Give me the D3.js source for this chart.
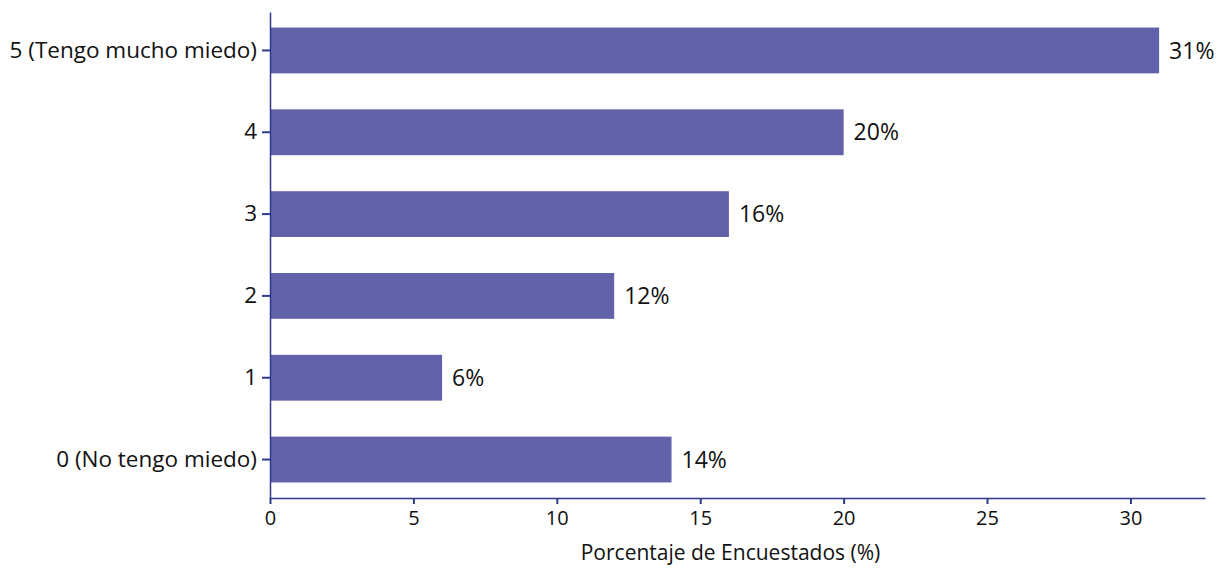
<!DOCTYPE html>
<html>
<head>
<meta charset="utf-8">
<script src="https://cdn.jsdelivr.net/npm/d3@7"></script>
<style>
  body { margin: 0; background: #fff; }
  text { font-family: "Open Sans", "Noto Sans", sans-serif; fill: #111; }
</style>
</head>
<body>
<script>
// data, top bar first
var categories = ["5 (Tengo mucho miedo)", "4", "3", "2", "1", "0 (No tengo miedo)"],
    values = [31, 20, 16, 12, 6, 14],
    xTicks = [0, 5, 10, 15, 20, 25, 30];

var w = 1224,
    h = 569,
    margin = {top: 12, right: 19, bottom: 71, left: 270},
    axisColor = "#2e3a8c",
    barColor = "#6262ab";

var svg = d3.select("body").append("svg").attr("width", w).attr("height", h);

var x = d3.scaleLinear()
  .domain([0, 32.6])
  .range([margin.left, w - margin.right]);

var y = d3.scaleBand()
  .domain(categories)
  .range([margin.top, h - margin.bottom])
  .paddingInner(0.44)
  .paddingOuter(0.19);

// bars
svg.append("g").selectAll("rect")
  .data(values)
  .enter().append("rect")
  .attr("x", x(0))
  .attr("y", function (d, i) { return y(categories[i]); })
  .attr("width", function (d) { return x(d) - x(0); })
  .attr("height", y.bandwidth())
  .attr("fill", barColor);

// value labels
svg.append("g").selectAll("text")
  .data(values)
  .enter().append("text")
  .attr("x", function (d) { return x(d) + 10; })
  .attr("y", function (d, i) { return y(categories[i]) + y.bandwidth() / 2; })
  .attr("dy", "0.35em")
  .style("font-size", "23px")
  .text(function (d) { return d + "%"; });

// x axis
var xAxis = svg.append("g")
  .attr("transform", "translate(0," + (h - margin.bottom) + ")")
  .call(d3.axisBottom(x).tickValues(xTicks).tickSize(6).tickPadding(7).tickSizeOuter(0));

// y axis
var yAxis = svg.append("g")
  .attr("transform", "translate(" + margin.left + ",0)")
  .call(d3.axisLeft(y).tickSize(8).tickPadding(5).tickSizeOuter(0));

[xAxis, yAxis].forEach(function (a) {
  a.select(".domain").attr("stroke", axisColor).attr("stroke-width", 1.5);
  a.selectAll(".tick line").attr("stroke", axisColor).attr("stroke-width", 2);
  a.selectAll(".tick text").attr("fill", "#111");
});
xAxis.selectAll(".tick text").style("font-size", "20px").attr("font-family", null);
yAxis.selectAll(".tick text").style("font-size", "22.5px").attr("font-family", null);

// axis title, sits a little left of the axis middle
svg.append("text")
  .attr("x", (x.range()[0] + x.range()[1]) / 2 - 7)
  .attr("y", 560)
  .attr("text-anchor", "middle")
  .style("font-size", "21px")
  .text("Porcentaje de Encuestados (%)");
</script>
</body>
</html>
